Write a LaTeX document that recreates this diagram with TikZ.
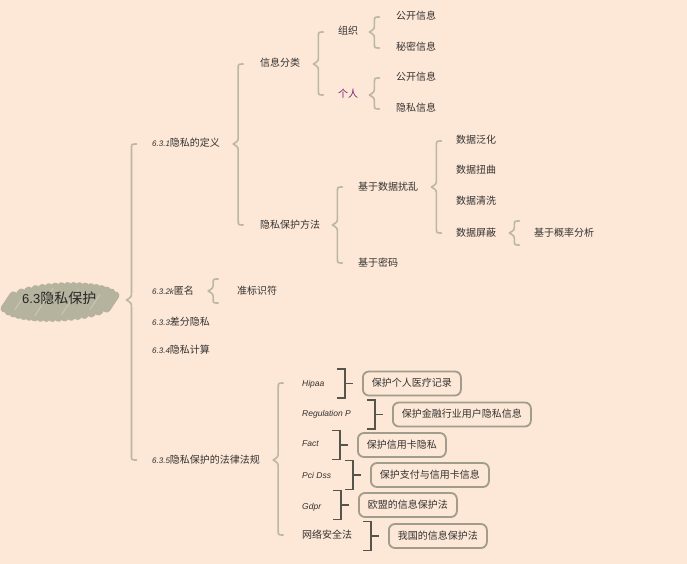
\documentclass[tikz,border=0pt]{standalone}
\usepackage{fontspec}
\setmainfont{Noto Sans CJK SC}
\newfontfamily\latf{Liberation Sans}
\usetikzlibrary{calc}
\definecolor{bg}{RGB}{253,231,214}
\definecolor{brcol}{RGB}{186,184,164}
\definecolor{txt}{RGB}{50,50,50}
\definecolor{boxc}{RGB}{160,157,138}
\definecolor{brk}{RGB}{85,85,75}
\definecolor{purp}{RGB}{120,30,120}
\definecolor{scrib}{RGB}{181,179,158}
\definecolor{scribl}{RGB}{206,202,184}
\newcommand\num[1]{{\latf\itshape\fontsize{8}{9}\selectfont #1}}
\newcommand\lawf{\latf\itshape\fontsize{8.5}{10}\selectfont}
\newcommand\mybrace[4]{%
  \draw[bracestyle] let \p1=($(#1.east)+(#4,0)$), \p2=(#2.west), \p3=(#3.west) in
    ({\x1+10pt},\y2) .. controls ({\x1+5pt},\y2) .. ({\x1+5pt},{\y2-5pt})
    -- ({\x1+5pt},{\y1+8pt}) .. controls ({\x1+5pt},{\y1+3pt}) .. (\x1,\y1)
    .. controls ({\x1+5pt},{\y1-3pt}) .. ({\x1+5pt},{\y1-8pt})
    -- ({\x1+5pt},{\y3+5pt}) .. controls ({\x1+5pt},\y3) .. ({\x1+10pt},\y3);}
\newcommand\onebrace[3]{%
  \draw[bracestyle] let \p1=($(#1.east)+(#3,0)$), \p2=(#2.west) in
    ({\x1+10pt},{\y1+12pt}) .. controls ({\x1+5pt},{\y1+12pt}) .. ({\x1+5pt},{\y1+8pt})
    .. controls ({\x1+5pt},{\y1+3pt}) .. (\x1,\y1)
    .. controls ({\x1+5pt},{\y1-3pt}) .. ({\x1+5pt},{\y1-8pt})
    .. controls ({\x1+5pt},{\y1-12pt}) .. ({\x1+10pt},{\y1-12pt});}
\newcommand\lawbr[2]{%
  \draw[brkstyle] let \p1=(#2.west) in
    ({\x1-25pt},{\y1+14.5pt}) -- ({\x1-17pt},{\y1+14.5pt}) -- ({\x1-17pt},{\y1-14.5pt}) -- ({\x1-25pt},{\y1-14.5pt})
    ({\x1-17pt},\y1) -- ({\x1-9pt},\y1);}
\begin{document}
\begin{tikzpicture}[x=1pt,y=-1pt,
  every node/.style={text=txt, font=\fontsize{10}{12}\selectfont, inner sep=0pt, text height=8pt, text depth=2pt},
  lbl/.style={anchor=west},
  bracestyle/.style={draw=brcol, line width=1.6pt, line cap=round, line join=round},
  brkstyle/.style={draw=brk, line width=1.3pt},
  lawbox/.style={anchor=west, draw=boxc, line width=1.8pt, rounded corners=6pt, inner xsep=9pt, minimum height=24pt}]
\useasboundingbox (0,0) rectangle (687,564);
\fill[bg] (0,0) rectangle (687,564);
% root scribble
\foreach \c in {9,15,...,111}{
  \pgfmathsetmacro\h{16*sqrt(max(0.08,1-((\c-60)/56)^2))}
  \draw[scrib, line width=8pt, line cap=round] ({\c-\h/1.5},{302+\h}) -- ({\c+\h/1.5},{302-\h});
}
\foreach \c/\f in {20/0.7,44/0.9,70/0.8,95/0.6}{
  \pgfmathsetmacro\h{16*\f*sqrt(max(0,1-((\c-60)/56)^2))}
  \draw[scribl, line width=0.8pt] ({\c-\h/1.5},{302+\h}) -- ({\c+\h/1.5},{302-\h});
}
\node[lbl, font=\fontsize{14}{16}\selectfont, text=black!85] (root) at (22,300) {{\latf\fontsize{13}{15}\selectfont 6.3}隐私保护};
% level 1
\node[lbl] (s1) at (152,144) {\num{6.3.1}隐私的定义};
\node[lbl] (s2) at (152,291) {\num{6.3.2k}匿名};
\node[lbl] (s3) at (152,322) {\num{6.3.3}差分隐私};
\node[lbl] (s4) at (152,350) {\num{6.3.4}隐私计算};
\node[lbl] (s5) at (152,460) {\num{6.3.5}隐私保护的法律法规};
% 6.3.1 subtree
\node[lbl] (a1) at (260,64) {信息分类};
\node[lbl] (a2) at (260,225) {隐私保护方法};
\node[lbl] (b1) at (338,32) {组织};
\node[lbl, text=purp] (b2) at (338,95) {个人};
\node[lbl] (c1) at (396,17) {公开信息};
\node[lbl] (c2) at (396,48) {秘密信息};
\node[lbl] (c3) at (396,78) {公开信息};
\node[lbl] (c4) at (396,109) {隐私信息};
\node[lbl] (d1) at (358,187) {基于数据扰乱};
\node[lbl] (d2) at (358,263) {基于密码};
\node[lbl] (e1) at (456,141) {数据泛化};
\node[lbl] (e2) at (456,171) {数据扭曲};
\node[lbl] (e3) at (456,201) {数据清洗};
\node[lbl] (e4) at (456,233) {数据屏蔽};
\node[lbl] (f1) at (534,233) {基于概率分析};
% 6.3.2
\node[lbl] (k1) at (237,291) {准标识符};
% 6.3.5 laws
\node[lbl] (l1) at (302,383) {\lawf Hipaa};
\node[lbl] (l2) at (302,413) {\lawf Regulation P};
\node[lbl] (l3) at (302,443) {\lawf Fact};
\node[lbl] (l4) at (302,475) {\lawf Pci Dss};
\node[lbl] (l5) at (302,506) {\lawf Gdpr};
\node[lbl] (l6) at (302,535) {网络安全法};
\node[lawbox] (m1) at (362,383.5) {保护个人医疗记录};
\node[lawbox] (m2) at (392,414.5) {保护金融行业用户隐私信息};
\node[lawbox] (m3) at (357,445) {保护信用卡隐私};
\node[lawbox] (m4) at (370,475) {保护支付与信用卡信息};
\node[lawbox] (m5) at (358,505) {欧盟的信息保护法};
\node[lawbox] (m6) at (388,536) {我国的信息保护法};
% braces
\mybrace{root}{s1}{s5}{30}
\mybrace{s1}{a1}{a2}{13}
\mybrace{a1}{b1}{b2}{13}
\mybrace{b1}{c1}{c2}{11}
\mybrace{b2}{c3}{c4}{11}
\mybrace{a2}{d1}{d2}{12}
\mybrace{d1}{e1}{e4}{13}
\onebrace{e4}{f1}{13}
\onebrace{s2}{k1}{14}
\mybrace{s5}{l1}{l6}{13}
% law brackets
\lawbr{l1}{m1}
\lawbr{l2}{m2}
\lawbr{l3}{m3}
\lawbr{l4}{m4}
\lawbr{l5}{m5}
\lawbr{l6}{m6}
\end{tikzpicture}
\end{document}
